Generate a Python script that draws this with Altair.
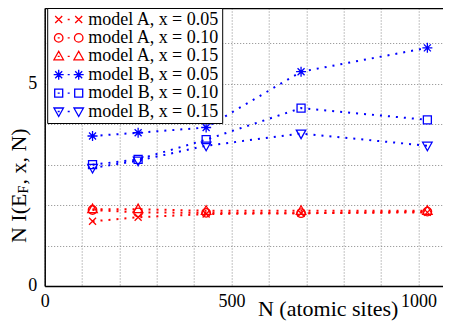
import altair as alt
import pandas as pd

# ---- data ----
N = [128, 250, 432, 686, 1024]
series = ["model A, x = 0.05", "model A, x = 0.10", "model A, x = 0.15",
          "model B, x = 0.05", "model B, x = 0.10", "model B, x = 0.15"]
a05 = [1.60, 1.70, 1.78, 1.80, 1.82]
a10 = [1.88, 1.82, 1.81, 1.80, 1.84]
a15 = [1.90, 1.90, 1.86, 1.86, 1.86]
b05 = [3.71, 3.79, 3.92, 5.30, 5.89]
b10 = [3.00, 3.13, 3.62, 4.40, 4.11]
b15 = [2.92, 3.10, 3.47, 3.77, 3.47]
x_ticks = list(range(0, 1001, 100))
y_ticks = list(range(0, 7))

values = [a05, a10, a15, b05, b10, b15]
rows = []
for s, vals in zip(series, values):
    for n, v in zip(N, vals):
        rows.append({"N": n, "val": v, "series": s})
df = pd.DataFrame(rows)

colors = ["#ff0000"] * 3 + ["#0000ff"] * 3
FONT = "Liberation Serif"


# ---- marker shapes (unit = 5px at size 100) ----
def xmark(c):
    return f"M{c-0.7},-0.7L{c+0.7},0.7M{c-0.7},0.7L{c+0.7},-0.7"

def circ(c):
    return f"M{c+0.85},0A0.85,0.85,0,1,1,{c-0.85},0A0.85,0.85,0,1,1,{c+0.85},0Z"

def triup(c):
    return f"M{c},-1L{c+0.95},0.7L{c-0.95},0.7Z"

def star(c):
    return (f"M{c-1},0L{c+1},0M{c},-1L{c},1M{c-0.7},-0.7L{c+0.7},0.7"
            f"M{c-0.7},0.7L{c+0.7},-0.7")

def square(c):
    return f"M{c-0.8},-0.8L{c+0.8},-0.8L{c+0.8},0.8L{c-0.8},0.8Z"

def tridown(c):
    return f"M{c},1L{c+0.95},-0.7L{c-0.95},-0.7Z"

def dot(c):
    return f"M{c-0.2},0L{c+0.2},0"

makers = [xmark, circ, triup, star, square, tridown]
marker_paths = [m(0) for m in makers]
legend_paths = [m(0) + dot(0) + dot(2) + m(4) for m in makers]

xscale = alt.Scale(domain=[0, 1065], nice=False, zero=False)
yscale = alt.Scale(domain=[0, 6.876], nice=False)

xaxis = alt.Axis(values=x_ticks, format="d",
                 labelExpr="datum.value % 500 == 0 ? datum.label : ''",
                 title="N (atomic sites)", titleX=283, titleY=29.5,
                 titleBaseline="alphabetic", titleAlign="center")
xaxis_top = alt.Axis(orient="top", labels=False, grid=False, title=None, domain=True)
yaxis = alt.Axis(values=y_ticks, format="d",
                 labelExpr="datum.value == 0 || datum.value == 5 ? datum.label : ''",
                 title=None)

base = alt.Chart(df)
Y = alt.Y("val:Q", scale=yscale, axis=yaxis)

cdom = dict(domain=series, range=colors)

lines = base.mark_line(strokeDash=[2, 6], strokeWidth=2).encode(
    x=alt.X("N:Q", scale=xscale, axis=xaxis), y=Y,
    color=alt.Color("series:N", scale=alt.Scale(**cdom), legend=None),
)

points = base.mark_point(filled=False, size=100, strokeWidth=1.3, opacity=1).encode(
    x=alt.X("N:Q", scale=xscale, axis=None), y=Y,
    color=alt.Color("series:N", scale=alt.Scale(**cdom), legend=None),
    shape=alt.Shape("series:N", scale=alt.Scale(domain=series, range=marker_paths),
                    legend=None),
)

legend_props = dict(title=None, labelFont=FONT, labelFontSize=18, labelColor="black")

leg = base.transform_filter("false").mark_point(
    filled=False, size=100, strokeWidth=1.3, opacity=1).encode(
    x=alt.X("N:Q", scale=xscale, axis=xaxis_top), y=Y,
    color=alt.Color("series:N", scale=alt.Scale(**cdom),
                    legend=alt.Legend(**legend_props)),
    shape=alt.Shape("series:N", scale=alt.Scale(domain=series, range=legend_paths),
                    legend=alt.Legend(**legend_props)),
)

# y-axis title with subscript F, drawn as text pieces
tdf = pd.DataFrame({"a": [0]})
t1 = alt.Chart(tdf).mark_text(text="N I(E", angle=270, align="left", baseline="middle",
                              font=FONT, fontSize=22, color="black").encode(
    x=alt.value(-25.6), y=alt.value(235))
t2 = alt.Chart(tdf).mark_text(text="F", angle=270, align="left", baseline="middle",
                              font=FONT, fontSize=14, color="black").encode(
    x=alt.value(-20.6), y=alt.value(185.5))
t3 = alt.Chart(tdf).mark_text(text=" , x, N)", angle=270, align="left", baseline="middle",
                              font=FONT, fontSize=22, color="black").encode(
    x=alt.value(-25.6), y=alt.value(176.5))

chart = alt.layer(lines, points, leg, t1, t2, t3).resolve_scale(
    color="independent", shape="independent"
).resolve_axis(x="independent").properties(
    width=398, height=278,
    autosize=alt.AutoSizeParams(type="none"),
    padding={"left": 36.7, "top": 0, "right": 0, "bottom": 35},
).configure_view(
    stroke=None
).configure_axis(
    labelFont=FONT, labelFontSize=18, labelColor="black",
    titleFont=FONT, titleFontSize=22, titleColor="black", titleFontWeight="normal",
    ticks=False, domainColor="black", domainWidth=1.5,
    grid=True, gridColor="#888888", gridDash=[1, 2], gridWidth=1,
    labelOverlap=False, labelFlush=False,
).configure_axisX(labelPadding=7).configure_axisY(labelPadding=8).configure_legend(
    orient="none", legendX=2.5, legendY=0,
    labelFont=FONT, labelFontSize=18, labelColor="black", labelOffset=20.5,
    symbolSize=100, symbolStrokeWidth=1.3, padding=2.5,
    strokeColor="black", fillColor="white", rowPadding=0.4, labelLimit=300,
)

chart.save("out.html", embed_options={"renderer": "svg", "actions": False})
